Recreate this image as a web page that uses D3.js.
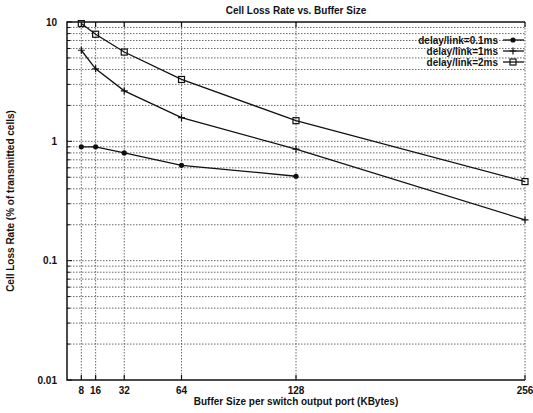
<!DOCTYPE html>
<html>
<head>
<meta charset="utf-8">
<title>Cell Loss Rate vs. Buffer Size</title>
<script src="https://d3js.org/d3.v7.min.js"></script>
<style>
  body { margin: 0; background: #fff; }
  text { font-family: "Liberation Sans", Arial, sans-serif; font-weight: bold; fill: #111; }
</style>
</head>
<body>
<script>
    // buffer sizes (KBytes)
    var bufferSizes = [8, 16, 32, 64, 128, 256];

    // cell loss rate (% of transmitted cells)
    var delay01 = [0.90, 0.90, 0.80, 0.63, 0.51];
    var delay1 = [5.8, 4.05, 2.65, 1.58, 0.86, 0.22];
    var delay2 = [9.7, 7.9, 5.6, 3.3, 1.49, 0.46];

    var seriesNames = ["delay/link=0.1ms", "delay/link=1ms", "delay/link=2ms"];
    var seriesMarks = ["circle", "plus", "square"];
    var yTicks = [0.01, 0.1, 1, 10];

    var margin = {top: 22, right: 8, bottom: 33, left: 67};
    var W = 533, H = 413;
    var width = W - margin.left - margin.right;
    var height = H - margin.top - margin.bottom;

    var svg = d3.select("body").append("svg")
        .attr("width", W).attr("height", H);
    var g = svg.append("g")
        .attr("transform", `translate(${margin.left},${margin.top})`);

    var x = d3.scaleLinear().domain([0, 256]).range([0, width]);
    var y = d3.scaleLog().domain([0.01, 10]).range([height, 0]);

    // horizontal grid at every log tick
    var minor = [];
    for (var e = -2; e < 1; e++) {
        for (var k = 1; k < 10; k++) minor.push(k * Math.pow(10, e));
    }
    minor.push(10);

    g.selectAll(".hgrid")
        .data(minor.filter(d => d > 0.01 && d < 10))
        .join("line")
        .attr("x1", 0).attr("x2", width)
        .attr("y1", d => y(d)).attr("y2", d => y(d))
        .attr("stroke", "#444").attr("stroke-width", 0.8)
        .attr("stroke-dasharray", "1.5,1.5");

    g.selectAll(".vgrid")
        .data(bufferSizes)
        .join("line")
        .attr("x1", d => x(d)).attr("x2", d => x(d))
        .attr("y1", 0).attr("y2", height)
        .attr("stroke", "#444").attr("stroke-width", 0.8)
        .attr("stroke-dasharray", "1.5,1.5");

    // frame: left, top, bottom
    g.append("path")
        .attr("d", `M${width},0H0V${height}H${width}`)
        .attr("fill", "none").attr("stroke", "#111").attr("stroke-width", 1.5);

    // tick marks
    g.selectAll(".ytick")
        .data(minor)
        .join("line")
        .attr("x1", 0).attr("x2", d => yTicks.includes(d) ? 5 : 3)
        .attr("y1", d => y(d)).attr("y2", d => y(d))
        .attr("stroke", "#111").attr("stroke-width", 1);
    g.selectAll(".xtickb")
        .data(bufferSizes)
        .join("line")
        .attr("x1", d => x(d)).attr("x2", d => x(d))
        .attr("y1", height).attr("y2", height - 5)
        .attr("stroke", "#111").attr("stroke-width", 1.2);
    g.selectAll(".xtickt")
        .data(bufferSizes)
        .join("line")
        .attr("x1", d => x(d)).attr("x2", d => x(d))
        .attr("y1", 0).attr("y2", 5)
        .attr("stroke", "#111").attr("stroke-width", 1.2);

    // tick labels
    g.selectAll(".ylab")
        .data(yTicks)
        .join("text")
        .attr("x", -10).attr("y", d => y(d))
        .attr("dy", "0.35em")
        .attr("text-anchor", "end")
        .style("font-size", "10px")
        .text(d => d);
    g.selectAll(".xlab")
        .data(bufferSizes)
        .join("text")
        .attr("x", d => x(d)).attr("y", height + 14)
        .attr("text-anchor", "middle")
        .style("font-size", "10px")
        .text(d => d);

    // titles
    svg.append("text")
        .attr("x", margin.left + width / 2).attr("y", 14)
        .attr("text-anchor", "middle")
        .style("font-size", "10px")
        .text("Cell Loss Rate vs. Buffer Size");
    svg.append("text")
        .attr("x", margin.left + width / 2).attr("y", 405)
        .attr("text-anchor", "middle")
        .style("font-size", "10px")
        .text("Buffer Size per switch output port (KBytes)");
    svg.append("text")
        .attr("transform", `translate(14,${margin.top + height / 2}) rotate(-90)`)
        .attr("text-anchor", "middle")
        .style("font-size", "10px")
        .text("Cell Loss Rate (% of transmitted cells)");

    function drawMark(sel, type) {
        if (type == "circle") {
            sel.append("circle").attr("r", 2.6).attr("fill", "#111");
        } else if (type == "plus") {
            sel.append("path").attr("d", "M-3.5,0H3.5M0,-3.5V3.5")
                .attr("stroke", "#111").attr("stroke-width", 1.2);
        } else {
            sel.append("rect").attr("x", -3).attr("y", -3)
                .attr("width", 6).attr("height", 6)
                .attr("fill", "none").attr("stroke", "#111").attr("stroke-width", 1.2);
        }
    }

    var allSeries = [delay01, delay1, delay2];
    var line = d3.line().x(d => x(d[0])).y(d => y(d[1]));

    allSeries.forEach(function(vals, i) {
        var pts = vals.map((v, j) => [bufferSizes[j], v]);
        g.append("path")
            .attr("d", line(pts))
            .attr("fill", "none").attr("stroke", "#111").attr("stroke-width", 1.3);
        pts.forEach(function(p) {
            var m = g.append("g").attr("transform", `translate(${x(p[0])},${y(p[1])})`);
            drawMark(m, seriesMarks[i]);
        });
    });

    // legend
    seriesNames.forEach(function(name, i) {
        var ly = 40 + i * 11;
        svg.append("text")
            .attr("x", 498).attr("y", ly)
            .attr("dy", "0.35em")
            .attr("text-anchor", "end")
            .style("font-size", "10px")
            .text(name);
        svg.append("line")
            .attr("x1", 503).attr("x2", 524)
            .attr("y1", ly).attr("y2", ly)
            .attr("stroke", "#111").attr("stroke-width", 1.3);
        var m = svg.append("g").attr("transform", `translate(513,${ly})`);
        drawMark(m, seriesMarks[i]);
    });
</script>
</body>
</html>
